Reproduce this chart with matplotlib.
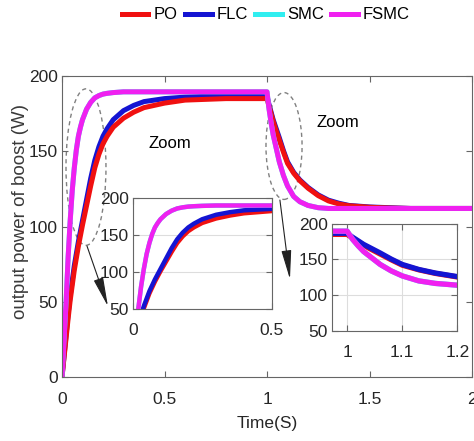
import matplotlib
matplotlib.use('Agg')
import matplotlib.pyplot as plt
from matplotlib.patches import Ellipse

# time axis (s) and output power (W)
TIME = [0, 0.01, 0.02, 0.03, 0.04, 0.05, 0.06, 0.07, 0.08, 0.09, 0.10, 0.12, 0.14, 0.16,
        0.18, 0.20, 0.22, 0.25, 0.30, 0.35, 0.40,
        0.50, 0.60, 0.70, 0.80, 0.90, 1.00,
        1.01, 1.02, 1.03, 1.04, 1.06, 1.08, 1.10, 1.13, 1.16, 1.20, 1.25, 1.30,
        1.35, 1.40, 1.50, 1.60, 1.70, 2.00]

PO_POWER = [0, 13, 26, 39, 51, 61, 71, 79, 87, 94, 101, 114, 127, 139,
            148, 155, 160, 166, 172, 176, 179,
            182, 184, 184.5, 185, 185, 185,
            180, 175, 170, 165.5, 157.5, 149.5, 142, 135.5, 130.5, 125.5, 120.5, 117,
            115, 113.8, 112.8, 112.3, 112, 112]
FLC_POWER = [0, 14, 28, 42, 54, 64, 74, 82, 90, 97, 104, 118, 132, 144,
             153, 160, 165, 171, 177, 180.5, 183,
             185, 186, 186.5, 186.5, 186.5, 186.5,
             181, 176, 171, 167, 159, 150.5, 143, 136, 131, 126, 121, 117.5,
             115.5, 114, 113, 112.5, 112, 112]
SMC_POWER = [0, 25, 50, 80, 104, 124, 139, 151, 160, 166, 171, 178, 182.5, 185.5,
             187, 188, 188.5, 189, 189.5, 189.5, 189.5,
             189.5, 189.5, 189.5, 189.5, 189.5, 189.5,
             178, 169, 161, 155, 143, 134, 127, 120, 116.5, 114, 112.5, 112,
             112, 112, 112, 112, 112, 112]
FSMC_POWER = [0, 25, 50, 80, 104, 124, 139, 151, 160, 166, 171, 178, 182.5, 185.5,
              187, 188, 188.5, 189, 189.5, 189.5, 189.5,
              189.5, 189.5, 189.5, 189.5, 189.5, 189.5,
              178, 169, 161, 155, 143, 134, 127, 120, 116.5, 114, 112.5, 112,
              112, 112, 112, 112, 112, 112]

LABELS = ['PO', 'FLC', 'SMC', 'FSMC']
COLORS = ['#f01010', '#1414d2', '#30eef0', '#f020f0']

X_TICKS = [0, 0.5, 1, 1.5, 2]
X_TICK_LABELS = ['0', '0.5', '1', '1.5', '2']
Y_TICKS = [0, 50, 100, 150, 200]
INSET_Y_TICKS = [50, 100, 150, 200]
INSET1_X_TICKS = [0, 0.5]
INSET1_X_LABELS = ['0', '0.5']
INSET2_X_TICKS = [1, 1.1, 1.2]
INSET2_X_LABELS = ['1', '1.1', '1.2']

TICK_COLOR = '#262626'
EDGE_COLOR = '#666666'

plt.rcParams['font.family'] = ['Liberation Sans', 'DejaVu Sans']


def style_axes(ax, pad_x):
	for side in ['top', 'bottom', 'left', 'right']:
		ax.spines[side].set_color(EDGE_COLOR)
	ax.tick_params(direction = 'in', length = 4, color = EDGE_COLOR, labelcolor = TICK_COLOR,
	               labelsize = 12.5, top = True, right = True)
	ax.tick_params(axis = 'x', pad = pad_x)
	ax.tick_params(axis = 'y', pad = 3)


def draw_curves(ax, lw, po_on_top = False):
	series = [PO_POWER, FLC_POWER, SMC_POWER, FSMC_POWER]
	zorders = [2.2, 2.1, 2.3, 2.4] if po_on_top else [2.1, 2.2, 2.3, 2.4]
	lines = []
	for values, label, color, z in zip(series, LABELS, COLORS, zorders):
		line, = ax.plot(TIME, values, color = color, lw = lw, label = label, zorder = z)
		lines.append(line)
	return lines


fig = plt.figure(figsize = (4.74, 4.41), dpi = 100)

# main axes
ax = fig.add_axes([0.1308, 0.1451, 0.865, 0.6825])
lines = draw_curves(ax, 3.6, po_on_top = True)
ax.set_xlim(0, 2)
ax.set_ylim(0, 200)
ax.set_xticks(X_TICKS)
ax.set_xticklabels(X_TICK_LABELS)
ax.set_yticks(Y_TICKS)
style_axes(ax, 11)
ax.set_xlabel('Time(S)', fontsize = 12.5, color = TICK_COLOR, labelpad = 6)
ax.set_ylabel('output power of boost (W)', fontsize = 13.5, color = '#3a3a3a')
ax.yaxis.set_label_coords(-0.08, 0.55)

# dashed ellipses, zoom labels and arrows
ax.add_patch(Ellipse((0.117, 139.5), 0.195, 104, fill = False, ls = (0, (3, 2.5)), lw = 1, ec = '#808080'))
ax.add_patch(Ellipse((1.083, 153.5), 0.176, 71, fill = False, ls = (0, (3, 2.5)), lw = 1, ec = '#808080'))
ax.text(0.527, 155, 'Zoom', fontsize = 12, ha = 'center', va = 'center')
ax.text(1.346, 168.8, 'Zoom', fontsize = 12, ha = 'center', va = 'center')
arrow = dict(arrowstyle = '-|>,head_length=1.0,head_width=0.17', color = '#222222', lw = 0.8,
             mutation_scale = 18, shrinkA = 0, shrinkB = 0)
ax.annotate('', xy = (0.224, 47), xytext = (0.122, 87), arrowprops = arrow)
ax.annotate('', xy = (1.112, 65), xytext = (1.063, 117.6), arrowprops = arrow)

# inset 1: start-up
ax1 = fig.add_axes([0.2800, 0.2993, 0.2932, 0.2524])
draw_curves(ax1, 3.2)
ax1.set_xlim(0, 0.5)
ax1.set_ylim(50, 200)
ax1.set_xticks(INSET1_X_TICKS)
ax1.set_xticklabels(INSET1_X_LABELS)
ax1.set_yticks(INSET_Y_TICKS)
ax1.grid(True, color = '#dddddd', lw = 0.8)
style_axes(ax1, 10)

# inset 2: load step
ax2 = fig.add_axes([0.6998, 0.2494, 0.2650, 0.2435])
draw_curves(ax2, 3.8)
ax2.set_xlim(0.972, 1.2)
ax2.set_ylim(50, 200)
ax2.set_xticks(INSET2_X_TICKS)
ax2.set_xticklabels(INSET2_X_LABELS)
ax2.set_yticks(INSET_Y_TICKS)
ax2.grid(True, color = '#dddddd', lw = 0.8)
style_axes(ax2, 10)

fig.legend(lines, LABELS, loc = 'center', bbox_to_anchor = (0.561, 0.966), ncol = 4, frameon = False,
           handlelength = 1.6, handletextpad = 0.3, columnspacing = 0.45,
           prop = {'size': 12})

fig.savefig('out.png', dpi = 100)
